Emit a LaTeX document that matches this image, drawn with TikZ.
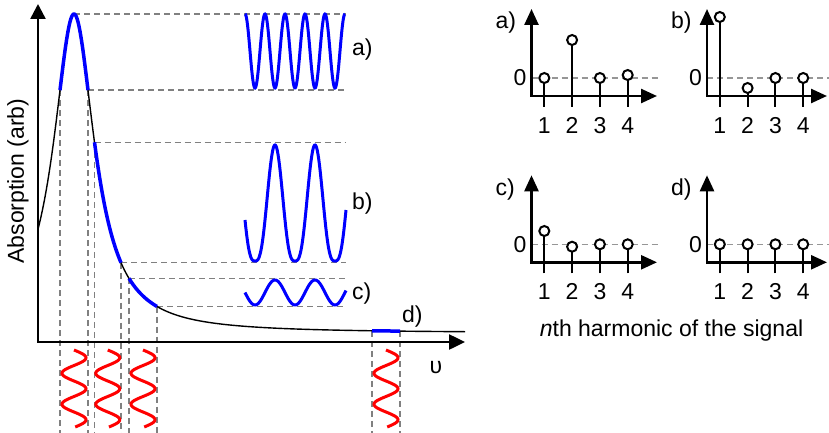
\documentclass[tikz,border=0pt]{standalone}
\usepackage{fontspec}
\setmainfont{Liberation Sans}
\usetikzlibrary{arrows.meta}
\definecolor{dgray}{RGB}{128,128,128}
\definecolor{zgray}{RGB}{150,150,150}
\pgfmathdeclarefunction{lorz}{1}{\pgfmathparse{333-319/(1+((#1-74)/25)*((#1-74)/25))}}
\tikzset{
  mainaxis/.style={line width=2.5pt, line join=miter},
  curve/.style={line width=1.4pt},
  seg/.style={blue, line width=3.5pt},
  guide/.style={dgray, line width=1.5pt, dash pattern=on 6pt off 4pt},
  redwave/.style={red, line width=3pt},
  sig/.style={blue, line width=3pt},
  stem/.style={line width=2pt},
  dot/.style={circle, draw, line width=2pt, fill=white, minimum size=10pt, inner sep=0pt},
  zeroline/.style={zgray, line width=1.2pt, dash pattern=on 6pt off 4pt},
  haxis/.style={line width=2.5pt, line join=miter},
  lab/.style={inner sep=0pt, anchor=base west},
  dig/.style={inner sep=0pt, anchor=base},
}
% #1 x, #2 oy, #3 value, #4 name
\newcommand\harmstem[4]{%
  \draw[stem] (#1,#2+11) -- (#1,#3);
  \node[dot] (#4) at (#1,#3) {};
}
% #1 ox, #2 oy, #3 x tip, #4 name, #5..#8 values (y, px)
\newcommand\harmplot[8]{%
  \draw[zeroline] (#1,#2-18) -- (#3+3,#2-18);
  \draw[haxis, {Triangle[length=16pt,width=14pt]}-{Triangle[length=16pt,width=14pt]}]
     (#1,#2-87) -- (#1,#2) -- (#3,#2);
  \harmstem{#1+12.8}{#2}{#5}{#4-1}
  \harmstem{#1+40.6}{#2}{#6}{#4-2}
  \harmstem{#1+68.4}{#2}{#7}{#4-3}
  \harmstem{#1+96.2}{#2}{#8}{#4-4}
  \node[dig] (#4-n1) at (#1+12.8,#2+37) {1};
  \node[dig] (#4-n2) at (#1+40.6,#2+37) {2};
  \node[dig] (#4-n3) at (#1+68.4,#2+37) {3};
  \node[dig] (#4-n4) at (#1+96.2,#2+37) {4};
  \node[inner sep=0pt, anchor=east] (#4-zero) at (#1-5,#2-18) {0};
  \node[lab] (#4-lab) at (#1-36,#2-67) {#4)};
}
\begin{document}
\begin{tikzpicture}[x=1pt,y=-1pt, font=\fontsize{23}{27}\selectfont]
\useasboundingbox (0,0) rectangle (829,433);

% guide lines
\draw[guide] (74,14) -- (346,14);
\draw[guide] (88,90.15) -- (346,90.15);
\draw[guide] (94.5,142.3) -- (346,142.3);
\draw[guide] (121,262.6) -- (346,262.6);
\draw[guide] (129,278.4) -- (346,278.4);
\draw[guide] (157,306.5) -- (346,306.5);
\foreach \gx/\gy in {60/90.15, 88/90.15, 94.5/142.3, 121/262.6, 129/278.4, 157/306.5, 372/330.8, 400/331.1}
  \draw[guide] (\gx,\gy) -- (\gx,433);

% axes
\draw[mainaxis, {Triangle[length=15pt,width=15pt]}-{Triangle[length=16pt,width=15pt]}]
  (38,4) -- (38,342) -- (465,342);

% absorption curve
\draw[curve] plot[domain=38:465, samples=400] (\x,{lorz(\x)});
\draw[seg] plot[domain=60:88, samples=60] (\x,{lorz(\x)});
\draw[seg] plot[domain=94.5:121, samples=60] (\x,{lorz(\x)});
\draw[seg] plot[domain=129:157, samples=60] (\x,{lorz(\x)});
\draw[seg] (372,330.8) -- (400,331.1);

% detected signals
\draw[sig] plot[domain=245:345, samples=250] (\x,{14+74*(1-cos(18*(\x-245)))/2});
\draw[sig] plot[domain=245:346, samples=250] (\x,{261-116*((1-cos(9*(\x-255)))/2+0.0001)^1.5});
\draw[sig] plot[domain=245:346, samples=200] (\x,{305-25*(1-cos(9*(\x-255)))/2});

% modulation waves
\foreach \c in {74,107.75,143,386}
  \draw[redwave] plot[domain=0:77, samples=150, variable=\t] ({\c+12*sin(11.6129*\t)},{350+\t});

% labels
\node[lab] (la) at (352,55.5) {a)};
\node[lab] (lb) at (352,209) {b)};
\node[lab] (lc) at (352,299) {c)};
\node[lab] (ld) at (402,322) {d)};
\node[inner sep=0pt, anchor=base] (nu) at (436,373) {υ};
\node[inner sep=0pt, rotate=90] (ylab) at (18,181) {Absorption (arb)};

% harmonic plots
\harmplot{531.5}{96}{657}{a}{78}{40}{78}{75}
\harmplot{707}{96}{827}{b}{17}{88}{78}{78}
\harmplot{531.5}{262.3}{657}{c}{231}{246.7}{244.3}{244.3}
\harmplot{707}{262.3}{827}{d}{244.3}{244.3}{244.3}{244.3}

\node[inner sep=0pt, anchor=base] (cap) at (671.5,336) {\textit{n}th harmonic of the signal};
\end{tikzpicture}
\end{document}
